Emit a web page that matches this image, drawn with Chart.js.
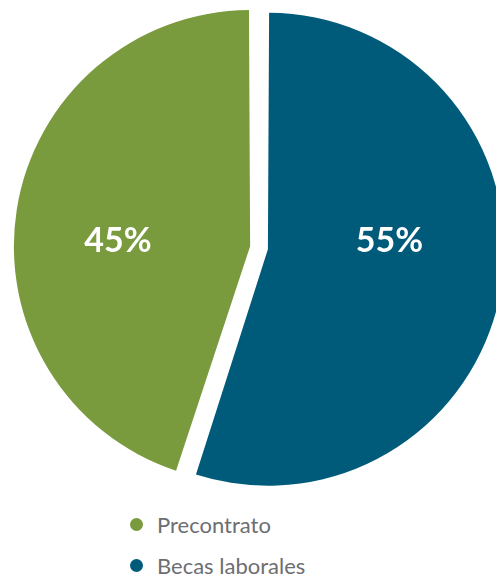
<!DOCTYPE html>
<html>
<head>
<meta charset="utf-8">
<script src="https://cdn.jsdelivr.net/npm/chart.js@4"></script>
<style>
  html, body { margin: 0; padding: 0; background: #fff; }
  #wrap { position: relative; width: 496px; height: 575px; overflow: hidden; }
  #chartBox { position: absolute; left: 0; top: 0; width: 496px; height: 496px; }
  #legend { position: absolute; left: 130px; top: 510px; margin: 0; padding: 0; list-style: none;
            font-family: Lato, 'Open Sans', sans-serif; font-size: 22px; color: #6d6e71; }
  #legend li { display: flex; align-items: center; height: 28px; margin-bottom: 13px; }
  #legend span.dot { display: inline-block; width: 13px; height: 13px; border-radius: 50%; margin-right: 14px; }
</style>
</head>
<body>
<div id="wrap">
  <div id="chartBox"><canvas id="pieChart"></canvas></div>
  <ul id="legend"></ul>
</div>
<script>
const labels = ['Precontrato', 'Becas laborales'];
const values = [45, 55];
const colors = ['#7a9a3e', '#005b7b'];

// slices pulled apart, green a bit more so both end up with the same radius
const sliceOffsets = [42, 30];
const labelRadius = [0.63, 0.57];

const pieLabels = {
  id: 'pieLabels',
  afterDatasetsDraw(chart) {
    const ctx = chart.ctx;
    const meta = chart.getDatasetMeta(0);
    const total = values.reduce((a, b) => a + b, 0);
    ctx.save();
    ctx.fillStyle = '#ffffff';
    ctx.font = 'bold 34px Lato, "Open Sans", sans-serif';
    ctx.textAlign = 'center';
    ctx.textBaseline = 'middle';
    meta.data.forEach((arc, i) => {
      const mid = (arc.startAngle + arc.endAngle) / 2;
      const x = arc.x + Math.cos(mid) * arc.outerRadius * labelRadius[i];
      const y = arc.y - 7;
      ctx.fillText(Math.round(values[i] / total * 100) + '%', x, y);
    });
    ctx.restore();
  },
};

const ctx = document.getElementById('pieChart').getContext('2d');
new Chart(ctx, {
  type: 'pie',
  data: {
    labels: labels,
    datasets: [{
      data: values,
      backgroundColor: colors,
      borderWidth: 0,
      offset: sliceOffsets,
      hoverOffset: 0,
      clip: false,
    }],
  },
  options: {
    responsive: true,
    maintainAspectRatio: false,
    animation: false,
    rotation: 198,
    radius: 229,
    layout: {
      padding: { left: 25, right: 0, top: 0, bottom: 0 },
    },
    plugins: {
      legend: { display: false },
      tooltip: { enabled: false },
    },
  },
  plugins: [pieLabels],
});

// legend under the pie, one item per row
const legendEl = document.getElementById('legend');
labels.forEach((label, i) => {
  const li = document.createElement('li');
  li.innerHTML = '<span class="dot" style="background:' + colors[i] + '"></span>' + label;
  legendEl.appendChild(li);
});
</script>
</body>
</html>
